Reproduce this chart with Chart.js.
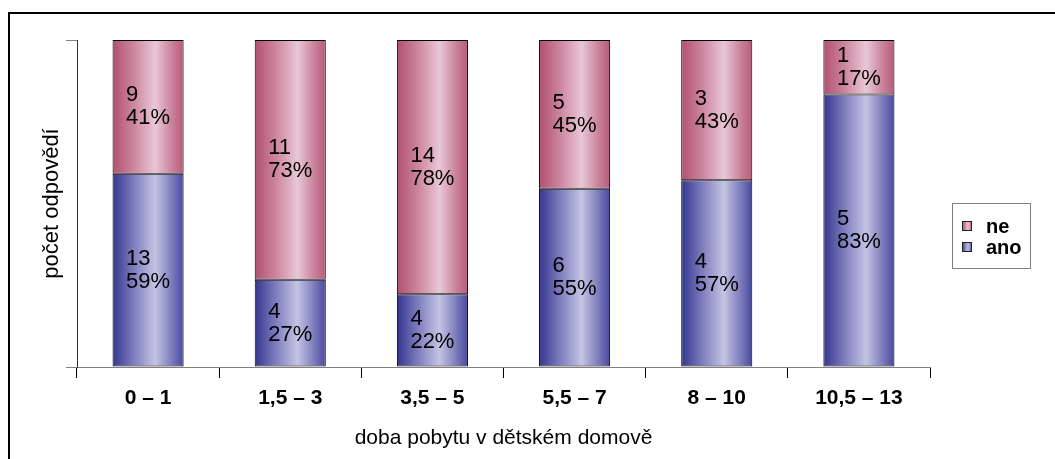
<!DOCTYPE html>
<html>
<head>
<meta charset="utf-8">
<script src="https://cdn.jsdelivr.net/npm/chart.js@4"></script>
<style>
  html, body { margin: 0; padding: 0; background: #fff; overflow: hidden; }
  #frame { position: absolute; left: 8px; top: 12px; width: 1200px; height: 600px; border: 2px solid #000; }
  #myChart { position: absolute; left: 0; top: 0; }
</style>
</head>
<body>
<div id="frame"></div>
<canvas id="myChart" width="1055" height="459"></canvas>
<script>
const labels = ["0 – 1", "1,5 – 3", "3,5 – 5", "5,5 – 7", "8 – 10", "10,5 – 13"];
const ano = [13, 4, 4, 6, 4, 5];
const ne = [9, 11, 14, 5, 3, 1];

const totals = labels.map((l, i) => ano[i] + ne[i]);
const anoPct = ano.map((v, i) => (v / totals[i]) * 100);
const nePct = ne.map((v, i) => (v / totals[i]) * 100);

const FONT = "'Liberation Sans', Arial, sans-serif";
const pinkStops = ["#b0506f", "#cd869f", "#e8c8d5", "#c87e98", "#b55b7b"];
const blueStops = ["#35358f", "#7e7ebe", "#c4c4e4", "#7777b9", "#48489f"];

function gradient(ctx2d, x0, x1, stops) {
  const g = ctx2d.createLinearGradient(x0, 0, x1, 0);
  g.addColorStop(0, stops[0]);
  g.addColorStop(0.3, stops[1]);
  g.addColorStop(0.6, stops[2]);
  g.addColorStop(0.85, stops[3]);
  g.addColorStop(1, stops[4]);
  return g;
}

function barFill(stops) {
  return (ctx) => {
    const chart = ctx.chart;
    const xs = chart.scales.x;
    if (!chart.chartArea || !xs) return stops[2];
    const cx = xs.getPixelForValue(ctx.dataIndex);
    const half = (xs.width / labels.length) * 0.25;
    return gradient(chart.ctx, cx - half, cx + half, stops);
  };
}

const data = {
  labels: labels,
  datasets: [
    {
      label: "ano",
      data: anoPct,
      counts: ano,
      backgroundColor: barFill(blueStops),
      borderColor: "#000",
      borderWidth: 1,
      borderSkipped: false,
      inflateAmount: 0,
      stops: blueStops,
    },
    {
      label: "ne",
      data: nePct,
      counts: ne,
      backgroundColor: barFill(pinkStops),
      borderColor: "#000",
      borderWidth: 1,
      borderSkipped: false,
      inflateAmount: 0,
      stops: pinkStops,
    },
  ],
};

// count + percent inside each segment
const segmentLabels = {
  id: "segmentLabels",
  afterDatasetsDraw(chart) {
    const c = chart.ctx;
    c.save();
    c.font = "22px " + FONT;
    c.fillStyle = "#000";
    c.textBaseline = "middle";
    c.textAlign = "left";
    const lh = 23;
    chart.data.datasets.forEach((ds, di) => {
      chart.getDatasetMeta(di).data.forEach((bar, i) => {
        const lines = [String(ds.counts[i]), Math.round(ds.data[i]) + "%"];
        const w = Math.max(...lines.map((t) => c.measureText(t).width));
        const x = bar.x - w / 2;
        const mid = (bar.y + bar.base) / 2;
        c.fillText(lines[0], x, mid - lh / 2);
        c.fillText(lines[1], x, mid + lh / 2);
      });
    });
    c.restore();
  },
};

// boxed legend on the right
const boxLegend = {
  id: "boxLegend",
  afterDraw(chart) {
    const c = chart.ctx;
    c.save();
    c.strokeStyle = "#808080";
    c.lineWidth = 1;
    c.strokeRect(952.5, 203.5, 78, 65);
    c.font = "bold 20px " + FONT;
    c.textBaseline = "middle";
    const order = [1, 0];
    order.forEach((di, row) => {
      const ds = chart.data.datasets[di];
      const y = 226 + row * 21;
      c.fillStyle = gradient(c, 962, 972, ds.stops);
      c.fillRect(962, y - 5, 10, 10);
      c.strokeStyle = "#222";
      c.strokeRect(962.5, y - 4.5, 9, 9);
      c.fillStyle = "#000";
      c.fillText(ds.label, 986, y + 1);
    });
    c.restore();
  },
};

const config = {
  type: "bar",
  data: data,
  options: {
    responsive: false,
    animation: false,
    devicePixelRatio: 1,
    categoryPercentage: 1,
    barPercentage: 0.5,
    layout: { padding: { left: 31.6, right: 125, top: 40, bottom: 8.6 } },
    plugins: {
      legend: { display: false },
      tooltip: { enabled: false },
    },
    scales: {
      x: {
        stacked: true,
        offset: true,
        grid: {
          offset: true,
          drawOnChartArea: false,
          drawTicks: true,
          tickLength: 11,
          color: "#000",
        },
        border: { color: "#808080", width: 1 },
        ticks: {
          color: "#000",
          padding: 8,
          maxRotation: 0,
          font: { family: FONT, size: 21, weight: "bold" },
        },
        title: {
          display: true,
          text: "doba pobytu v dětském domově",
          color: "#000",
          padding: { top: 6, bottom: 0 },
          font: { family: FONT, size: 21 },
        },
      },
      y: {
        stacked: true,
        min: 0,
        max: 100,
        grid: {
          drawOnChartArea: false,
          drawTicks: true,
          tickLength: 11,
          color: "#808080",
        },
        border: { color: "#333", width: 1 },
        ticks: { display: false, stepSize: 100 },
        title: {
          display: true,
          text: "počet odpovědí",
          color: "#000",
          padding: { top: 7, bottom: 1 },
          font: { family: FONT, size: 22 },
        },
      },
    },
  },
  plugins: [segmentLabels, boxLegend],
};

const stackedChart = new Chart(document.getElementById("myChart"), config);
</script>
</body>
</html>
